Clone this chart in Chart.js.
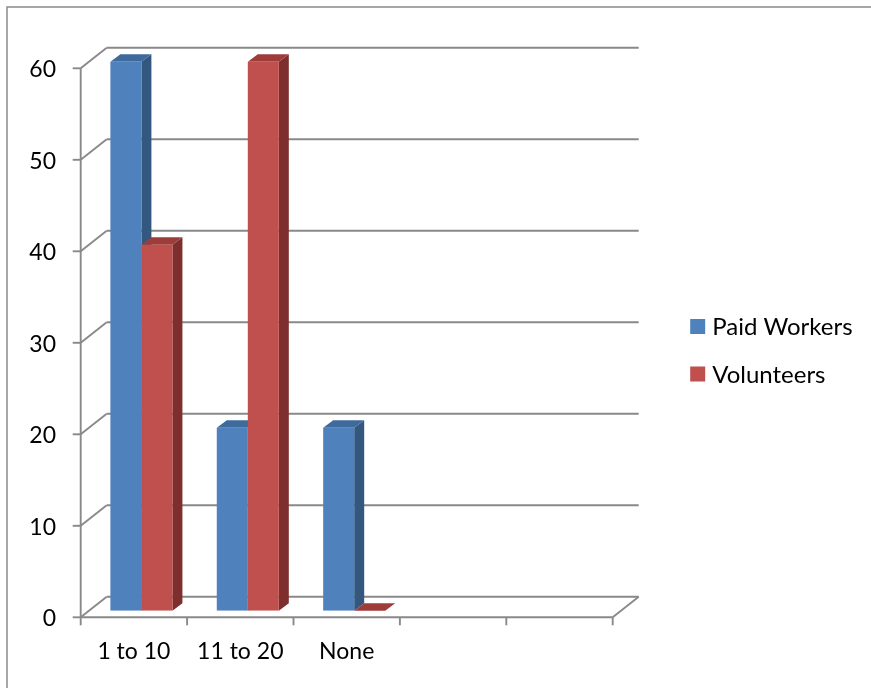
<!DOCTYPE html>
<html>
<head>
<meta charset="utf-8">
<script src="https://cdn.jsdelivr.net/npm/chart.js@4/dist/chart.umd.min.js"></script>
<style>
  html, body { margin: 0; padding: 0; background: #fff; }
  canvas { display: block; }
</style>
</head>
<body>
<canvas id="chart" width="871" height="688"></canvas>
<script>
// Categories and series
const categories = ['1 to 10', '11 to 20', 'None', '', ''];
const paidWorkers = [60, 20, 20, null, null];
const volunteers = [40, 60, 0, null, null];
const seriesNames = ['Paid Workers', 'Volunteers'];
const yTickStep = 10;
const yMax = 60;

const FONT_FAMILY = 'Lato, "Open Sans", sans-serif';
const GRID_COLOR = '#898989';

// Oblique 3D projection: offsets of the front edge, the back wall and the
// bar depth, measured from the plane the bar fronts are drawn in.
const FRONT = { x: -7.5, y: 6.5 };
const BACK = { x: 18.5, y: -14 };
const DEPTH = { x: 10, y: -7.5 };

const shades = [
  { front: '#4F81BD', top: '#3F6A9C', side: '#34577F' },
  { front: '#C0504D', top: '#9E3C3A', side: '#7E2F2D' }
];

function line(ctx, x1, y1, x2, y2) {
  ctx.beginPath();
  ctx.moveTo(x1, y1);
  ctx.lineTo(x2, y2);
  ctx.stroke();
}

function poly(ctx, pts, color) {
  ctx.beginPath();
  ctx.moveTo(pts[0][0], pts[0][1]);
  for (let i = 1; i < pts.length; i++) ctx.lineTo(pts[i][0], pts[i][1]);
  ctx.closePath();
  ctx.fillStyle = color;
  ctx.fill();
}

const frame3d = {
  id: 'frame3d',
  beforeDraw(chart) {
    const ctx = chart.ctx;
    ctx.save();
    ctx.fillStyle = '#fff';
    ctx.fillRect(0, 0, chart.width, chart.height);
    ctx.strokeStyle = '#8a8a8a';
    ctx.lineWidth = 1.5;
    ctx.strokeRect(7, 7, chart.width + 20, chart.height + 20);
    ctx.restore();
  },
  beforeDatasetsDraw(chart) {
    const { ctx, chartArea: a, scales: { x, y } } = chart;
    ctx.save();
    ctx.strokeStyle = GRID_COLOR;
    ctx.lineWidth = 1.9;

    const fl = a.left + FRONT.x, fr = a.right + FRONT.x;
    const bl = a.left + BACK.x, br = a.right + BACK.x;
    const y0 = y.getPixelForValue(0);
    const yTop = y.getPixelForValue(yMax);

    // back wall gridlines, side-wall diagonals and value ticks
    y.ticks.forEach(t => {
      const py = y.getPixelForValue(t.value);
      line(ctx, bl, py + BACK.y, br, py + BACK.y);
      line(ctx, fl, py + FRONT.y, bl, py + BACK.y);
      line(ctx, fl - 8, py + FRONT.y, fl, py + FRONT.y);
    });
    // front value axis
    line(ctx, fl, yTop + FRONT.y, fl, y0 + FRONT.y);
    // floor: front edge and right diagonal
    line(ctx, fl, y0 + FRONT.y, fr, y0 + FRONT.y);
    line(ctx, fr, y0 + FRONT.y, br, y0 + BACK.y);
    // category boundary ticks
    const catW = (a.right - a.left) / categories.length;
    for (let i = 0; i <= categories.length; i++) {
      const px = (i < categories.length ? x.getPixelForValue(i) - catW / 2 : x.getPixelForValue(i - 1) + catW / 2) + FRONT.x;
      line(ctx, px, y0 + FRONT.y, px, y0 + FRONT.y + 8);
    }

    // side and top faces of the columns
    chart.data.datasets.forEach((ds, di) => {
      const meta = chart.getDatasetMeta(di);
      meta.data.forEach((bar, i) => {
        if (ds.data[i] == null) return;
        const p = bar.getProps(['x', 'y', 'base', 'width'], true);
        const L = p.x - p.width / 2, R = p.x + p.width / 2;
        poly(ctx, [[R, p.y], [R + DEPTH.x, p.y + DEPTH.y], [R + DEPTH.x, p.base + DEPTH.y], [R, p.base]], shades[di].side);
        poly(ctx, [[L, p.y], [R, p.y], [R + DEPTH.x, p.y + DEPTH.y], [L + DEPTH.x, p.y + DEPTH.y]], shades[di].top);
      });
    });
    ctx.restore();
  },
  afterDraw(chart) {
    const { ctx, chartArea: a } = chart;
    ctx.save();
    ctx.font = '24px ' + FONT_FAMILY;
    ctx.textBaseline = 'middle';
    ctx.textAlign = 'left';
    chart.data.datasets.forEach((ds, i) => {
      const cy = 326.5 + i * 47.5;
      const bx = a.right + 70;
      ctx.fillStyle = ds.backgroundColor;
      ctx.fillRect(bx, cy - 7.5, 15, 15);
      ctx.fillStyle = '#000';
      ctx.fillText(ds.label, bx + 22, cy + 1);
    });
    ctx.restore();
  }
};

new Chart(document.getElementById('chart'), {
  type: 'bar',
  data: {
    labels: categories,
    datasets: [
      { label: seriesNames[0], data: paidWorkers, backgroundColor: shades[0].front },
      { label: seriesNames[1], data: volunteers, backgroundColor: shades[1].front }
    ]
  },
  options: {
    responsive: false,
    animation: false,
    devicePixelRatio: 1,
    layout: { padding: { top: 61.8, left: 0, right: 250.8, bottom: 0 } },
    datasets: { bar: { barPercentage: 1, categoryPercentage: 0.583 } },
    plugins: { legend: { display: false }, tooltip: { enabled: false } },
    scales: {
      x: {
        offset: true,
        grid: { display: false, drawTicks: false },
        border: { display: false },
        ticks: {
          color: '#000',
          font: { family: FONT_FAMILY, size: 23 },
          padding: 27,
          labelOffset: -7.5,
          maxRotation: 0,
          autoSkip: false
        },
        afterFit(scale) { scale.height = 77.2; }
      },
      y: {
        min: 0,
        max: yMax,
        grid: { display: false, drawTicks: false },
        border: { display: false },
        ticks: {
          stepSize: yTickStep,
          color: '#000',
          font: { family: FONT_FAMILY, size: 23 },
          padding: 32.2,
          labelOffset: 8
        },
        afterFit(scale) { scale.width = 88.2; }
      }
    }
  },
  plugins: [frame3d]
});
</script>
</body>
</html>
